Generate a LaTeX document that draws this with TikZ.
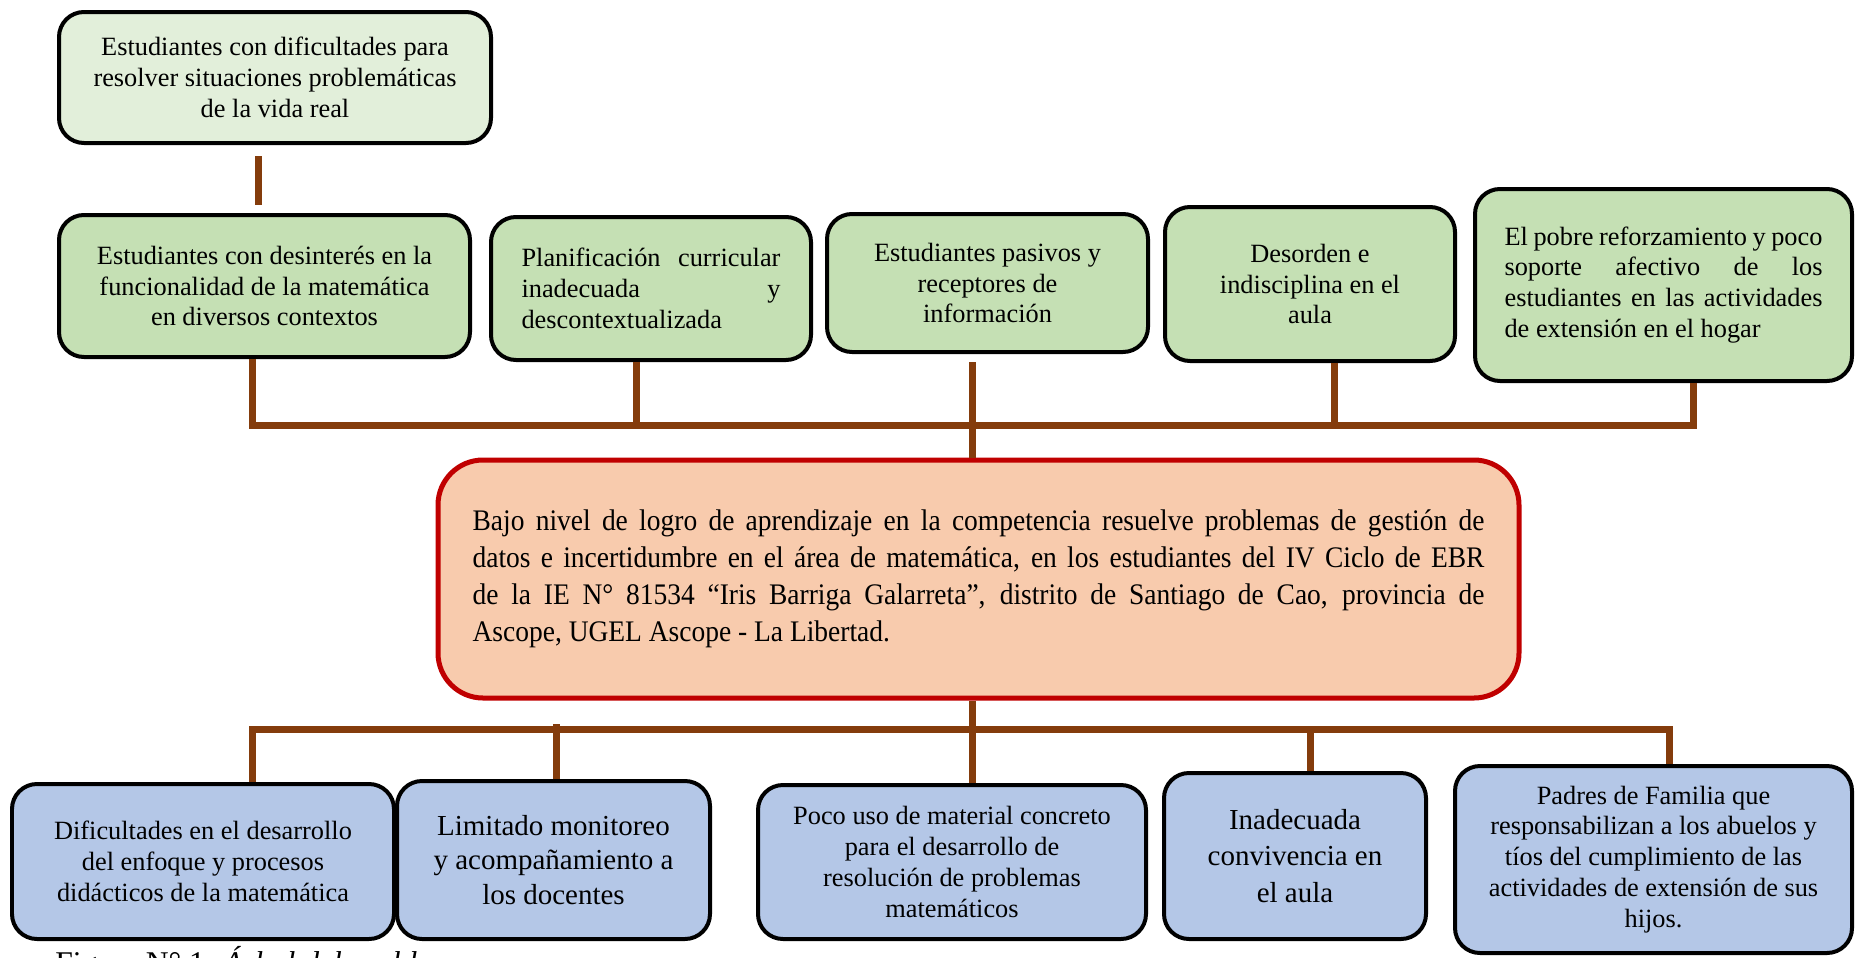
\documentclass[tikz,border=0pt]{standalone}
\usepackage{fontspec}
\setmainfont{Liberation Serif}
\newfontfamily\probfont[FakeStretch=0.92]{Liberation Serif}
\usetikzlibrary{positioning,calc}
\definecolor{effgreen}{HTML}{E2EFDA}
\definecolor{causegreen}{HTML}{C5E0B4}
\definecolor{probfill}{HTML}{F8CBAD}
\definecolor{probred}{HTML}{C00000}
\definecolor{subblue}{HTML}{B4C7E7}
\definecolor{trunkbrown}{HTML}{843C0C}

\begin{document}
\begin{tikzpicture}[x=0.02cm,y=-0.02cm,
  boxsize/.style 2 args={minimum width=#1*0.02cm,minimum height=#2*0.02cm},
  box/.style={draw=black,line width=0.08cm,rounded corners=0.5cm,align=center,inner sep=0pt,
    font=\fontsize{15}{17.6}\selectfont},
  effect/.style={box,fill=effgreen},
  cause/.style={box,fill=causegreen},
  factor/.style={box,fill=subblue},
  problem/.style={box,draw=probred,fill=probfill,line width=0.1cm,rounded corners=0.9cm,
    font=\probfont\fontsize{17}{21}\selectfont},
  link/.style={draw=trunkbrown,line width=0.14cm}]
\useasboundingbox (0,0) rectangle (1856,957);
\clip (0,0) rectangle (1856,957);
\coordinate (trunkU) at (0,423);
\coordinate (trunkD) at (0,731);

\node[effect,boxsize={432}{131}] (efecto) at (275,77.5) {Estudiantes con dificultades para\\resolver situaciones problemáticas\\de la vida real};

\node[cause,boxsize={411}{142}] (causa1) at (264.5,286) {Estudiantes con desinterés en la\\funcionalidad de la matemática\\en diversos contextos};
\node[cause,boxsize={320}{143},text width=5.18cm,align=justify] (causa2) at (651,288.5) {Planificación curricular\linebreak inadecuada y\linebreak descontextualizada};
\node[cause,boxsize={321}{138}] (causa3) at (987.5,283) {Estudiantes pasivos y\\receptores de\\información};
\node[cause,boxsize={290}{154}] (causa4) at (1310,284) {Desorden e\\indisciplina en el\\aula};
\node[cause,boxsize={377}{192},text width=6.36cm,align=justify] (causa5) at (1663.5,285) {El pobre reforzamiento y poco\linebreak soporte afectivo de los\linebreak estudiantes en las actividades\linebreak de extensión en el hogar};

\node[problem,boxsize={1081}{238},text width=20.24cm,align=justify] (problema) at (978.5,579) {Bajo nivel de logro de aprendizaje en la competencia resuelve problemas de gestión de\linebreak datos e incertidumbre en el área de matemática, en los estudiantes del IV Ciclo de EBR\linebreak de la IE N° 81534 “Iris Barriga Galarreta”, distrito de Santiago de Cao, provincia de\linebreak Ascope, UGEL Ascope - La Libertad.};

\node[factor,boxsize={382}{155}] (factor1) at (203,861.5) {Dificultades en el desarrollo\\del enfoque y procesos\\didácticos de la matemática};
\node[factor,boxsize={313}{158},font=\fontsize{16.5}{19.4}\selectfont] (factor2) at (553.5,860) {Limitado monitoreo\\y acompañamiento a\\los docentes};
\node[factor,boxsize={388}{154}] (factor3) at (952,862) {Poco uso de material concreto\\para el desarrollo de\\resolución de problemas\\matemáticos};
\node[factor,boxsize={262}{166},font=\fontsize{16.5}{20.8}\selectfont] (factor4) at (1295,856) {Inadecuada\\convivencia en\\el aula};
\node[factor,boxsize={397}{187}] (factor5) at (1653.5,859.5) {Padres de Familia que\\responsabilizan a los abuelos y\\tíos del cumplimiento de las\\actividades de extensión de sus\\hijos.};

\draw[link] ($(efecto.south)+(-17,11)$) -- ($(causa1.north)+(-6.5,-8)$);
\draw[link] ($(causa1.south)+(-12.5,0)$) |- ($(causa5.south)+(29.5,42)$) -- ($(causa5.south)+(29.5,0)$);
\draw[link] ($(causa2.south)+(-15,0)$) coordinate (p2) -- (p2 |- trunkU);
\draw[link] ($(causa4.south)+(24,0)$) coordinate (p4) -- (p4 |- trunkU);
\draw[link] ($(causa3.south)+(-15.5,8)$) -- ($(problema.north)+(-6.5,0)$);

\draw[link] ($(problema.south)+(-6.5,0)$) -- ($(factor3.north)+(20,0)$);
\draw[link] ($(factor1.north)+(49,0)$) |- ($(factor5.north)+(15.5,-35)$) -- ($(factor5.north)+(15.5,0)$);
\draw[link] ($(factor2.north)+(2.5,0)$) coordinate (q2) -- ($(q2 |- trunkD)+(0,-7)$);
\draw[link] ($(factor4.north)+(15,0)$) coordinate (q4) -- (q4 |- trunkD);

\node[anchor=base west,inner sep=0pt,font=\fontsize{18}{21}\selectfont] (caption) at (55,973) {Figura N° 1. \textit{Árbol del problema}};
\end{tikzpicture}
\end{document}
